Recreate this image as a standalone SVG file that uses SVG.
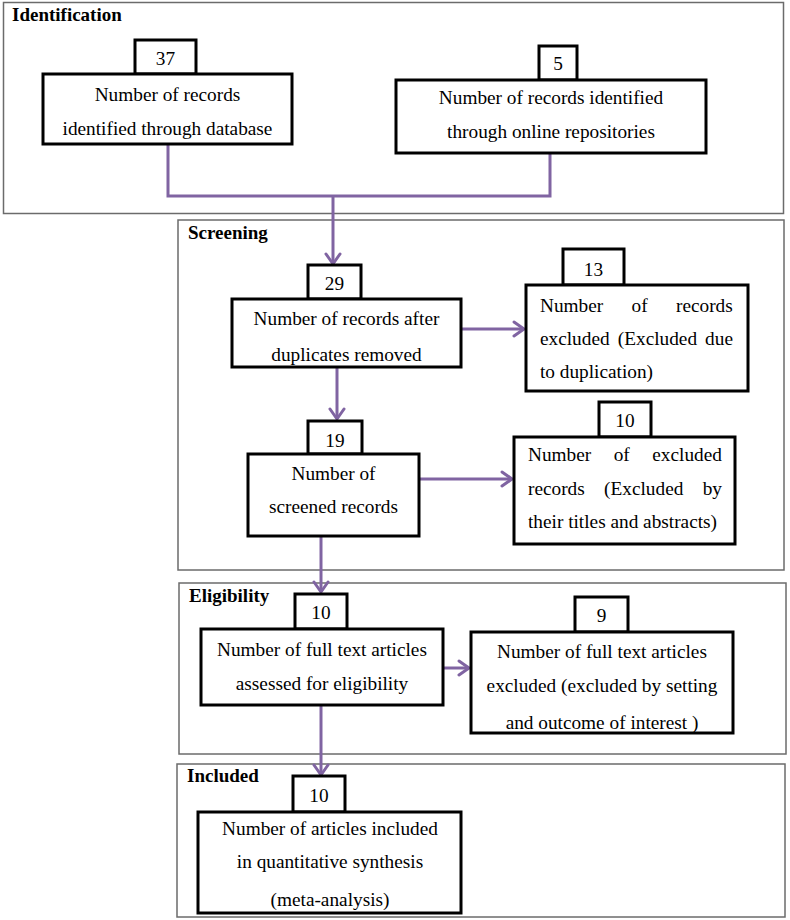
<svg xmlns="http://www.w3.org/2000/svg" width="790" height="920" viewBox="0 0 790 920">
<style>
.panel{fill:none;stroke:#6b6b6b;stroke-width:1.5}
.box{fill:none;stroke:#000;stroke-width:3}
.bg{fill:#fff;stroke:none}
.t{font-family:"Liberation Serif","Times New Roman",serif;font-size:19.3px;fill:#000}
.c{text-anchor:middle}
.lbl{font-family:"Liberation Serif","Times New Roman",serif;font-size:19px;font-weight:bold;fill:#000}
.conn{fill:none;stroke:#8064A2;stroke-width:3}
</style>
<defs>
<marker id="ah" markerUnits="userSpaceOnUse" markerWidth="18" markerHeight="18" refX="13" refY="9" orient="auto">
<path d="M3,2 L13,9 L3,16" fill="none" stroke="#8064A2" stroke-width="3" stroke-linecap="round" stroke-linejoin="miter"/>
</marker>
</defs>
<rect width="790" height="920" fill="#fff"/>

<g id="panels">
<rect class="panel" x="3.5" y="2.5" width="780" height="211"/>
<text class="lbl" x="12" y="21">Identification</text>
<rect class="panel" x="178" y="220" width="606" height="350"/>
<text class="lbl" x="188" y="239">Screening</text>
<rect class="panel" x="179" y="583" width="607" height="171"/>
<text class="lbl" x="189" y="602">Eligibility</text>
<rect class="panel" x="177" y="764" width="608" height="153"/>
<text class="lbl" x="187" y="782">Included</text>
</g>

<g id="connectors">
<path class="conn" d="M168,144 V196 H333"/>
<path class="conn" d="M550,153 V196 H333"/>
<path class="conn" d="M333,196 V264" marker-end="url(#ah)"/>
<path class="conn" d="M461,329 H524" marker-end="url(#ah)"/>
<path class="conn" d="M337,367 V419" marker-end="url(#ah)"/>
<path class="conn" d="M419,479 H512" marker-end="url(#ah)"/>
<path class="conn" d="M321,536 V592" marker-end="url(#ah)"/>
<path class="conn" d="M443,668 H469" marker-end="url(#ah)"/>
<path class="conn" d="M321,705 V775" marker-end="url(#ah)"/>
</g>

<g id="n37">
<rect class="bg" x="135" y="40" width="61" height="34"/>
<text class="t c" x="165.5" y="65">37</text>
<rect class="box" x="135" y="40" width="61" height="34"/>
<rect class="bg" x="43" y="74" width="249" height="70"/>
<text class="t c" x="167.5" y="101">Number of records</text>
<text class="t c" x="167.5" y="135">identified through database</text>
<rect class="box" x="43" y="74" width="249" height="70"/>
</g>

<g id="n5">
<rect class="bg" x="539" y="46" width="38" height="34"/>
<text class="t c" x="558" y="70">5</text>
<rect class="box" x="539" y="46" width="38" height="34"/>
<rect class="bg" x="396" y="80" width="310" height="73"/>
<text class="t c" x="551" y="104">Number of records identified</text>
<text class="t c" x="551" y="138">through online repositories</text>
<rect class="box" x="396" y="80" width="310" height="73"/>
</g>

<g id="n29">
<rect class="bg" x="308" y="265" width="53" height="34"/>
<text class="t c" x="334.5" y="290">29</text>
<rect class="box" x="308" y="265" width="53" height="34"/>
<rect class="bg" x="232" y="299" width="229" height="68"/>
<text class="t c" x="346.5" y="325">Number of records after</text>
<text class="t c" x="346.5" y="361">duplicates removed</text>
<rect class="box" x="232" y="299" width="229" height="68"/>
</g>

<g id="n13">
<rect class="bg" x="563" y="249" width="61" height="36"/>
<text class="t c" x="593.5" y="276">13</text>
<rect class="box" x="563" y="249" width="61" height="36"/>
<rect class="bg" x="526" y="285" width="222" height="106"/>
<text class="t" x="540" y="312">Number</text>
<text class="t" x="631.5" y="312">of</text>
<text class="t" x="676" y="312">records</text>
<text class="t" x="540" y="345">excluded</text>
<text class="t" x="617.8" y="345">(Excluded</text>
<text class="t" x="705.1" y="345">due</text>
<text class="t" x="540" y="378">to duplication)</text>
<rect class="box" x="526" y="285" width="222" height="106"/>
</g>

<g id="n19">
<rect class="bg" x="308" y="421" width="54" height="33"/>
<text class="t c" x="335" y="447">19</text>
<rect class="box" x="308" y="421" width="54" height="33"/>
<rect class="bg" x="248" y="454" width="171" height="82"/>
<text class="t c" x="333.5" y="480">Number of</text>
<text class="t c" x="333.5" y="513">screened records</text>
<rect class="box" x="248" y="454" width="171" height="82"/>
</g>

<g id="n10excl">
<rect class="bg" x="599" y="402" width="52" height="35"/>
<text class="t c" x="625" y="427">10</text>
<rect class="box" x="599" y="402" width="52" height="35"/>
<rect class="bg" x="514" y="437" width="221" height="107"/>
<text class="t" x="528" y="461">Number</text>
<text class="t" x="613.7" y="461">of</text>
<text class="t" x="652.3" y="461">excluded</text>
<text class="t" x="528" y="495">records</text>
<text class="t" x="604.1" y="495">(Excluded</text>
<text class="t" x="702.7" y="495">by</text>
<text class="t" x="528" y="528">their titles and abstracts)</text>
<rect class="box" x="514" y="437" width="221" height="107"/>
</g>

<g id="n10elig">
<rect class="bg" x="295" y="594" width="52" height="35"/>
<text class="t c" x="321" y="619">10</text>
<rect class="box" x="295" y="594" width="52" height="35"/>
<rect class="bg" x="201" y="629" width="242" height="76"/>
<text class="t c" x="322" y="656">Number of full text articles</text>
<text class="t c" x="322" y="690">assessed for eligibility</text>
<rect class="box" x="201" y="629" width="242" height="76"/>
</g>

<g id="n9">
<rect class="bg" x="575" y="597" width="53" height="35"/>
<text class="t c" x="601.5" y="622">9</text>
<rect class="box" x="575" y="597" width="53" height="35"/>
<rect class="bg" x="471" y="632" width="262" height="101"/>
<text class="t c" x="602" y="658">Number of full text articles</text>
<text class="t c" x="602" y="692">excluded (excluded by setting</text>
<text class="t c" x="602" y="729">and outcome of interest )</text>
<rect class="box" x="471" y="632" width="262" height="101"/>
</g>

<g id="n10incl">
<rect class="bg" x="293" y="776" width="52" height="36"/>
<text class="t c" x="319" y="802">10</text>
<rect class="box" x="293" y="776" width="52" height="36"/>
<rect class="bg" x="198" y="812" width="263" height="101"/>
<text class="t c" x="330" y="835">Number of articles included</text>
<text class="t c" x="330" y="868">in quantitative synthesis</text>
<text class="t c" x="330" y="906">(meta-analysis)</text>
<rect class="box" x="198" y="812" width="263" height="101"/>
</g>
</svg>
